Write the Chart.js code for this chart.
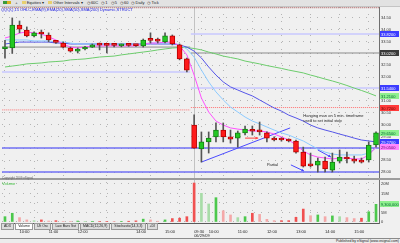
<!DOCTYPE html>
<html>
<head>
<meta charset="utf-8">
<script src="https://cdn.jsdelivr.net/npm/chart.js@4.4.1/dist/chart.umd.min.js"></script>
<style>
  html, body { margin: 0; padding: 0; background: #f0f0f0; }
  #wrap { position: relative; width: 400px; height: 243px; overflow: hidden;
          font-family: "Liberation Sans", Arial, sans-serif; color: #222; }
  #chart { position: absolute; left: 0; top: 0; }
  .txt { position: absolute; white-space: nowrap; font-size: 4px; line-height: 4px; }
  #toolbar { position: absolute; left: 0; top: 0; width: 400px; height: 6px; background: #e2e2e2;
             border-bottom: 1px solid #c4c4c4; font-size: 4px; line-height: 6px; white-space: nowrap; }
  #toolbar span { display: inline-block; margin-left: 3px; }
  .ico { display: inline-block; width: 4px; height: 3px; vertical-align: middle; }
  #tabs { position: absolute; left: 1px; top: 223px; height: 5px; font-size: 3.5px; line-height: 5px; white-space: nowrap; }
  #tabs span { display: inline-block; padding: 0 2px; background: #dcdcdc; border: 0.5px solid #999; margin-right: 1px; }
  #tabs span.on { background: #fff; }
  #footer { position: absolute; left: 0; top: 238px; width: 400px; height: 5px; border-top: 1px solid #8a8a8a;
            background: #ececec; font-size: 3.5px; line-height: 5px; text-align: right; }
</style>
</head>
<body>
<div id="wrap">
  <canvas id="chart" width="400" height="243"></canvas>
  <div id="toolbar">
    <span><i class="ico" style="background:#3a9a3a"></i><i class="ico" style="background:#d8b020"></i></span>
    <span>+</span>
    <span><i class="ico" style="background:#e8d070"></i> Equities ▾</span>
    <span><i class="ico" style="background:#e8d070"></i> Other Intervals ▾</span>
    <span>◷ 60C</span><span>◷ 1</span><span>◷ 5</span><span>◷ 60</span><span>◷ Daily</span><span>◷ Tick</span>
  </div>
  <div class="txt" style="left:1px;top:8px;color:#2020e0">QQQQ,15 OHLC,EMA(9),EMA(20),SMA(50),SMA(200) Dynamic,STRUCT</div>
  <div class="txt" style="left:2px;top:176px;color:#666;font-size:3px">Copyright 2009 eSignal</div>
  <div class="txt" style="left:2px;top:182px;color:#3cbc3c">Volume</div>
  <div id="tabs"><span>ADX</span><span class="on">Volume</span><span>Ult Osc</span><span>Law Bars Sst</span><span>MACD(12,26,9)</span><span>Stochastic(14,3,3)</span><span>+DI</span></div>
  <div id="footer">Published by eSignal (www.esignal.com)&nbsp;</div>
</div>
<script>
// 15 minute bars, two sessions (index 0-25 first day, 26-51 second day)
const opens = [33.20, 33.23, 34.20, 33.99, 33.74, 33.83, 33.78, 33.50, 33.44, 33.23, 33.10, 33.19, 33.27,
  33.36, 33.37, 33.35, 33.32, 33.37, 33.36, 33.32, 33.57, 33.53, 33.49, 33.74, 33.36, 32.77,
  29.98, 28.97, 29.27, 29.48, 29.77, 29.48, 29.43, 29.65, 29.74, 29.77, 29.65, 29.39, 29.37,
  29.35, 29.31, 28.84, 28.29, 28.29, 28.46, 28.08, 28.46, 28.63, 28.51, 28.46, 28.51, 29.14];
const highs = [33.55, 34.50, 34.37, 34.12, 33.91, 33.99, 33.87, 33.55, 33.49, 33.27, 33.23, 33.30, 33.40,
  33.44, 33.40, 33.42, 33.40, 33.40, 33.38, 33.61, 33.87, 33.65, 33.87, 33.78, 33.40, 32.81,
  30.41, 29.69, 29.69, 30.07, 30.07, 29.77, 29.73, 29.94, 29.94, 30.11, 29.69, 29.48, 29.45,
  29.40, 29.35, 29.05, 28.80, 28.59, 28.63, 28.80, 28.93, 28.84, 28.67, 28.59, 29.27, 29.69];
const lows = [32.80, 33.00, 33.87, 33.70, 33.70, 33.65, 33.49, 33.42, 33.23, 33.06, 33.02, 33.15, 33.25,
  33.15, 33.02, 33.28, 33.28, 33.30, 33.30, 33.27, 33.44, 33.44, 33.44, 33.36, 32.73, 32.22,
  29.00, 28.42, 28.80, 29.27, 29.27, 29.22, 29.05, 29.56, 29.56, 29.56, 29.27, 29.31, 29.30,
  29.27, 28.80, 28.21, 28.21, 28.00, 28.00, 28.00, 28.38, 28.38, 28.38, 28.38, 28.42, 29.05];
const closes = [33.25, 34.20, 34.03, 33.74, 33.87, 33.82, 33.57, 33.47, 33.27, 33.10, 33.19, 33.27, 33.36,
  33.35, 33.34, 33.34, 33.36, 33.34, 33.33, 33.57, 33.55, 33.52, 33.74, 33.40, 32.77, 32.30,
  29.01, 29.27, 29.43, 29.77, 29.48, 29.39, 29.65, 29.81, 29.72, 29.69, 29.43, 29.35, 29.35,
  29.31, 28.84, 28.25, 28.26, 28.46, 28.13, 28.42, 28.63, 28.55, 28.46, 28.42, 29.14, 29.65];
// volume in millions
const volumes = [2.8, 4.6, 2.3, 1.1, 0.7, 1.1, 0.5, 0.7, 0.3, 0.2, 0.5, 0.2, 0.2, 0.3, 0.3, 0.2, 0.3,
  0.4, 0.6, 1.5, 1.1, 0.4, 1.1, 1.8, 2.0, 2.8,
  20.5, 15.1, 9.5, 12.8, 5.9, 3.7, 2.3, 2.8, 4.6, 4.0, 1.4, 0.7, 0.7, 0.7, 2.5, 6.8, 3.3,
  3.7, 2.8, 3.2, 2.8, 2.3, 1.8, 2.0, 5.4, 9.3];

// moving averages
const pinkMA = [33.65, 33.74, 33.86, 33.91, 33.86, 33.82, 33.70, 33.57, 33.40, 33.27, 33.23, 33.27, 33.32,
  33.32, 33.32, 33.32, 33.32, 33.32, 33.32, 33.40, 33.44, 33.44, 33.48, 33.48, 33.32, 32.94,
  32.09, 31.12, 30.53, 30.15, 29.98, 29.86, 29.81, 29.77, 29.73, 29.73, 29.69, 29.60, 29.48,
  29.35, 29.14, 28.89, 28.72, 28.63, 28.59, 28.55, 28.59, 28.59, 28.55, 28.55, 28.72, 29.05];
const lightBlueMA = [33.57, 33.57, 33.57, 33.57, 33.53, 33.53, 33.53, 33.48, 33.48, 33.44, 33.40, 33.40, 33.40,
  33.40, 33.40, 33.40, 33.40, 33.40, 33.40, 33.40, 33.44, 33.44, 33.44, 33.44, 33.36, 33.19,
  32.85, 32.30, 31.80, 31.38, 31.04, 30.74, 30.53, 30.32, 30.15, 30.03, 29.90, 29.77, 29.65,
  29.56, 29.43, 29.31, 29.14, 28.97, 28.84, 28.76, 28.72, 28.72, 28.72, 28.72, 28.80, 29.01];
const blueMA = [33.40, 33.44, 33.48, 33.48, 33.48, 33.48, 33.48, 33.44, 33.44, 33.40, 33.40, 33.40, 33.40,
  33.40, 33.40, 33.40, 33.40, 33.40, 33.40, 33.40, 33.40, 33.40, 33.40, 33.40, 33.36, 33.27,
  33.10, 32.81, 32.43, 32.09, 31.80, 31.59, 31.46, 31.33, 31.21, 31.04, 30.87, 30.70, 30.57,
  30.40, 30.28, 30.15, 29.98, 29.86, 29.77, 29.69, 29.60, 29.52, 29.43, 29.35, 29.31, 29.27];
const greenMA = [32.43, 32.47, 32.51, 32.56, 32.58, 32.60, 32.64, 32.66, 32.68, 32.73, 32.75, 32.77, 32.81,
  32.85, 32.87, 32.89, 32.94, 32.98, 33.02, 33.06, 33.10, 33.15, 33.19, 33.23, 33.25, 33.25,
  33.21, 33.15, 33.06, 32.98, 32.89, 32.83, 32.77, 32.68, 32.62, 32.56, 32.49, 32.43, 32.37,
  32.30, 32.24, 32.18, 32.09, 32.01, 31.92, 31.84, 31.75, 31.65, 31.54, 31.44, 31.33, 31.21];

// session levels, one value per day
const sessionFirst = [0, 26];
const sessionLast = [25, 51];
const grayLvl = [33.27, 33.02];
const lavLvl = [32.22, 33.82];
const lavLvl2 = [null, 31.54];
const redLvl = [30.62, 30.72];
const supportLvls = [29.01, 28.00];
const topLvl = 34.93;

// drawn annotations (bar index, price)
const trendFrom = [27, 28.42];
const trendTo = [39.2, 29.86];
const arrowFrom = [[39.3, 28.30], [43.0, 28.93], [33.0, 29.43]];
const arrowTo = [[41.1, 28.04], [44.8, 28.63], [34.8, 29.43]];
const arrowColors = ['#4848ff', '#4848ff', '#ff4040'];
const notes = ['Hanging man on 5 min. timeframe', 'used to set initial stop', 'Partial'];
const noteAt = [[41, 30.36], [41, 30.17], [36, 28.30]];

// axes
const timeTicks = [2, 6, 10, 18, 22, 26, 28, 32, 36, 40, 44, 48];
const timeLabels = ['10:00', '11:00', '12:00', '14:00', '15:00', ['09:30', '06/29/09'],
  '10:00', '11:00', '12:00', '13:00', '14:00', '15:00'];
const priceTicks = [28.00, 28.50, 29.00, 29.50, 30.00, 30.50, 31.00, 31.50, 32.00, 32.50, 33.00, 33.50, 34.00, 34.50];
const volTicks = [0, 5, 10, 15, 20];
const volLabels = ['0', '5M', '10M', '15M', '20M'];
const dayBreak = 26;

const UP = '#22c822', DOWN = '#ff1a1a';
const pts = arr => arr.map((v, i) => ({x: i, y: v}));
const FONT = {family: 'Liberation Sans', size: 4};

function levelSets(vals, color, width, dash) {
  return vals.map((v, d) => v == null ? null : ({
    type: 'line', yAxisID: 'y', order: 3,
    data: [{x: sessionFirst[d] - 0.45, y: v}, {x: sessionLast[d] + 0.45, y: v}],
    borderColor: color, borderWidth: width, borderDash: dash, pointRadius: 0
  })).filter(Boolean);
}
function lineSet(arr, color, width) {
  return {type: 'line', yAxisID: 'y', order: 2, data: pts(arr), borderColor: color,
          borderWidth: width, pointRadius: 0, tension: 0};
}

const datasets = [
  {type: 'bar', yAxisID: 'y', order: 1, grouped: false, barThickness: 1,
   data: highs.map((h, i) => ({x: i, y: [lows[i], h]})), backgroundColor: '#555'},
  {type: 'bar', yAxisID: 'y', order: 0, grouped: false, barThickness: 5, minBarLength: 2,
   borderSkipped: false, borderWidth: 1,
   data: opens.map((o, i) => ({x: i, y: [o, closes[i]]})),
   backgroundColor: closes.map((c, i) => c >= opens[i] ? UP : DOWN),
   borderColor: closes.map((c, i) => c >= opens[i] ? '#138013' : '#b80000')},
  {type: 'bar', yAxisID: 'vol', order: 1, grouped: false, barThickness: 2,
   data: pts(volumes),
   backgroundColor: volumes.map((v, i) => {
     const up = closes[i] >= opens[i];
     const rising = i === 0 || v >= volumes[i - 1];
     return up ? (rising ? '#4cc84c' : '#a8dca8') : (rising ? '#f05050' : '#f4a8a8');
   })},
  lineSet(pinkMA, '#ff50ff', 1),
  lineSet(lightBlueMA, '#8ccaff', 1),
  lineSet(blueMA, '#5555e8', 1),
  lineSet(greenMA, '#6ccc6c', 1),
  {type: 'line', yAxisID: 'y', order: 2, data: [{x: trendFrom[0], y: trendFrom[1]}, {x: trendTo[0], y: trendTo[1]}],
   borderColor: '#4a4aff', borderWidth: 1, pointRadius: 0},
  ...levelSets(grayLvl, '#8c8c8c', 1, []),
  ...levelSets(lavLvl, '#c8c8ff', 1.5, []),
  ...levelSets(lavLvl2, '#c8c8ff', 1.5, []),
  ...levelSets(redLvl, '#ff7070', 1, [1, 1]),
  ...supportLvls.map(v => ({type: 'line', yAxisID: 'y', order: 3,
    data: [{x: -1, y: v}, {x: 52, y: v}], borderColor: '#7070f4', borderWidth: 1.5, pointRadius: 0})),
  {type: 'line', yAxisID: 'y', order: 3, data: [{x: -1, y: topLvl}, {x: 52, y: topLvl}],
   borderColor: '#a04848', borderWidth: 1, borderDash: [1, 1], pointRadius: 0}
];

// boxes on the price axis, taken from the last value of each series
const tags = [
  [lavLvl[1], '#3c3cff', '#fff'],
  [grayLvl[1], '#3a3a3a', '#fff'],
  [lavLvl2[1], '#3c3cff', '#fff'],
  [greenMA[51], '#8ef08e', '#063'],
  [redLvl[1], '#ff3a3a', '#600'],
  [closes[51], '#8ef08e', '#063'],
  [blueMA[51], '#3c3cff', '#fff'],
  [pinkMA[51], '#ff88ff', '#606']
];

const overlay = {
  id: 'overlay',
  beforeDatasetsDraw(chart) {
    const {ctx, chartArea: a, scales: {x, vol}} = chart;
    ctx.save();
    ctx.strokeStyle = '#c2c2c2';
    ctx.lineWidth = 1;
    const bx = Math.round(x.getPixelForValue(dayBreak)) + 0.5;
    ctx.beginPath(); ctx.moveTo(bx, a.top); ctx.lineTo(bx, a.bottom); ctx.stroke();
    ctx.strokeStyle = '#9c9c9c';
    ctx.lineWidth = 2;
    const sy = Math.round(vol.top) + 2;
    ctx.beginPath(); ctx.moveTo(0, sy); ctx.lineTo(400, sy); ctx.stroke();
    ctx.restore();
  },
  afterDraw(chart) {
    const {ctx, scales: {x, y, vol}} = chart;
    ctx.save();
    // arrows
    arrowFrom.forEach((f, i) => {
      const x1 = x.getPixelForValue(f[0]), y1 = y.getPixelForValue(f[1]);
      const x2 = x.getPixelForValue(arrowTo[i][0]), y2 = y.getPixelForValue(arrowTo[i][1]);
      const ang = Math.atan2(y2 - y1, x2 - x1);
      ctx.strokeStyle = arrowColors[i]; ctx.fillStyle = arrowColors[i]; ctx.lineWidth = 1;
      ctx.beginPath(); ctx.moveTo(x1, y1); ctx.lineTo(x2, y2); ctx.stroke();
      ctx.beginPath(); ctx.moveTo(x2, y2);
      ctx.lineTo(x2 - 3 * Math.cos(ang - 0.5), y2 - 3 * Math.sin(ang - 0.5));
      ctx.lineTo(x2 - 3 * Math.cos(ang + 0.5), y2 - 3 * Math.sin(ang + 0.5));
      ctx.closePath(); ctx.fill();
    });
    // notes
    ctx.font = '4px "Liberation Sans"';
    ctx.fillStyle = '#222';
    ctx.textBaseline = 'middle';
    notes.forEach((t, i) => ctx.fillText(t, x.getPixelForValue(noteAt[i][0]), y.getPixelForValue(noteAt[i][1])));
    // axis tags
    const tag = (py, bg, fg, text) => {
      ctx.fillStyle = bg;
      ctx.fillRect(380, Math.round(py) - 3, 19, 6);
      ctx.fillStyle = fg;
      ctx.fillText(text, 381, Math.round(py) + 0.5);
    };
    tags.forEach(t => tag(y.getPixelForValue(t[0]), t[1], t[2], t[0].toFixed(4)));
    const lastVol = volumes[volumes.length - 1];
    tag(vol.getPixelForValue(lastVol), '#8ef08e', '#063', Math.round(lastVol * 1e6).toLocaleString('en-US'));
    ctx.restore();
  }
};

new Chart(document.getElementById('chart'), {
  data: {datasets},
  plugins: [overlay],
  options: {
    responsive: false,
    animation: false,
    events: [],
    layout: {padding: {left: 2, top: 7, right: 0, bottom: 5}},
    plugins: {legend: {display: false}, tooltip: {enabled: false}},
    scales: {
      x: {
        type: 'linear', min: -0.41, max: 51.41, offset: false,
        afterBuildTicks: s => { s.ticks = timeTicks.map(v => ({value: v})); },
        afterFit: s => { s.height = 15; },
        ticks: {autoSkip: false, maxRotation: 0, align: 'start', padding: 6, font: FONT, color: '#222',
                callback: (v, i) => timeLabels[i]},
        grid: {color: '#b4b4b4', drawTicks: false},
        border: {display: true, color: '#5a5a5a', dash: [1, 6]}
      },
      y: {
        type: 'linear', position: 'right', stack: 'main', stackWeight: 170,
        min: 27.79, max: 34.96,
        afterBuildTicks: s => { s.ticks = priceTicks.map(v => ({value: v})); },
        afterFit: s => { s.width = 21; },
        ticks: {autoSkip: false, padding: 2, font: FONT, color: '#333', callback: v => v.toFixed(2)},
        grid: {color: '#b4b4b4', drawTicks: false},
        border: {display: true, color: '#707070', dash: [1, 6]}
      },
      vol: {
        type: 'linear', position: 'right', stack: 'main', stackWeight: 46,
        min: -0.53, max: 23.68,
        afterBuildTicks: s => { s.ticks = volTicks.map(v => ({value: v})); },
        afterFit: s => { s.width = 21; },
        ticks: {autoSkip: false, padding: 2, font: FONT, color: '#333', callback: (v, i) => volLabels[i]},
        grid: {color: '#b4b4b4', drawTicks: false},
        border: {display: true, color: '#707070', dash: [1, 6]}
      }
    }
  }
});
</script>
</body>
</html>
